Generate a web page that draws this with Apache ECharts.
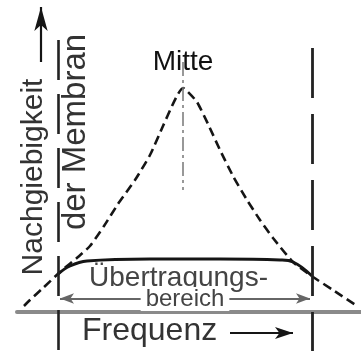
<!DOCTYPE html>
<html>
<head>
<meta charset="utf-8">
<script src="https://cdn.jsdelivr.net/npm/echarts@6/dist/echarts.min.js"></script>
<style>
  html, body { margin: 0; padding: 0; background: #fff; }
  #chart { width: 361px; height: 351px; }
</style>
</head>
<body>
<div id="chart"></div>
<script>
// resonance curve of the undamped membrane (dashed)
var peakFreq = [7, 13, 26, 43, 61, 73, 87, 101, 118, 133, 146, 155, 161, 166, 171, 180, 191, 203, 216, 230, 243, 256, 276, 296, 316, 340];
var peakValue = [6, 12, 24, 40, 55, 66, 86, 108, 132, 157, 186, 206, 218, 224, 220, 210, 188, 162, 136, 112, 92, 74, 50, 35, 22, 6];

// flattened (damped) response, solid
var flatFreq = [41, 53, 70, 133, 203, 263, 276, 295];
var flatValue = [38, 46, 51, 53, 53, 52, 50, 36];

// band edges of the Übertragungsbereich and the centre frequency
var edgeFreq = [41, 295];
var edgeTop = [272, 264];
var centerFreq = 166;
var centerRange = [122, 250];
var bandArrowLevel = 13.5;

var labels = {
  yTitle: 'Nachgiebigkeit',
  yTitle2: 'der Membran',
  center: 'Mitte',
  band1: 'Übertragungs-',
  band2: 'bereich',
  xTitle: 'Frequenz'
};

function zip(xs, ys) {
  var out = [];
  for (var i = 0; i < xs.length; i++) {
    out.push([xs[i], ys[i]]);
  }
  return out;
}

var ink = '#151515';
var font = '"Liberation Sans", Arial, sans-serif';

var chart = echarts.init(document.getElementById('chart'));

chart.setOption({
  animation: false,
  backgroundColor: '#fff',
  grid: { left: 17, right: 0, top: 0, bottom: 0, containLabel: false },
  xAxis: {
    type: 'value',
    min: 0,
    max: 344,
    axisLine: { show: true, onZero: true, lineStyle: { color: '#8a8a8a', width: 4 } },
    axisTick: { show: false },
    axisLabel: { show: false },
    splitLine: { show: false }
  },
  yAxis: {
    type: 'value',
    min: -39,
    max: 312,
    axisLine: { show: false },
    axisTick: { show: false },
    axisLabel: { show: false },
    splitLine: { show: false }
  },
  series: [
    {
      name: 'peak',
      type: 'line',
      data: zip(peakFreq, peakValue),
      smooth: 0.2,
      symbol: 'none',
      lineStyle: { color: ink, width: 2.6, type: [9, 5] },
      z: 3
    },
    {
      name: 'flat',
      type: 'line',
      data: zip(flatFreq, flatValue),
      smooth: 0.4,
      symbol: 'none',
      lineStyle: { color: ink, width: 3 },
      z: 4,
      markLine: {
        silent: true,
        symbol: 'none',
        label: { show: false },
        data: [
          // left band edge
          [
            { coord: [edgeFreq[0], edgeTop[0]], lineStyle: { color: '#222', width: 2.6, type: [40, 14] } },
            { coord: [edgeFreq[0], -39] }
          ],
          // right band edge
          [
            { coord: [edgeFreq[1], edgeTop[1]], lineStyle: { color: '#222', width: 2.8, type: [50, 16] } },
            { coord: [edgeFreq[1], -39] }
          ],
          // centre line
          [
            { coord: [centerFreq, centerRange[1]], lineStyle: { color: '#777', width: 1.5, type: [14, 4, 3, 4] } },
            { coord: [centerFreq, centerRange[0]] }
          ],
          // Übertragungsbereich double arrow
          [
            { coord: [edgeFreq[0] + 2, bandArrowLevel], symbol: 'arrow', symbolSize: [8, 14], lineStyle: { color: '#666', width: 2, type: 'solid' } },
            { coord: [edgeFreq[1] - 2, bandArrowLevel], symbol: 'arrow', symbolSize: [8, 14] }
          ],
          // y arrow
          [
            { coord: [24, 250], symbol: 'none', lineStyle: { color: ink, width: 2.2, type: 'solid' } },
            { coord: [24, 305], symbol: 'arrow', symbolSize: [10, 24] }
          ],
          // x arrow
          [
            { coord: [213, -21], symbol: 'none', lineStyle: { color: ink, width: 2.2, type: 'solid' } },
            { coord: [276, -21], symbol: 'arrow', symbolSize: [9, 18] }
          ]
        ]
      }
    }
  ],
  graphic: [
    {
      type: 'text', x: 34, y: 177, rotation: Math.PI / 2, z: 10,
      style: { text: labels.yTitle, font: '30px ' + font, fill: '#333', align: 'center', verticalAlign: 'middle' }
    },
    {
      type: 'text', x: 75.5, y: 132, rotation: Math.PI / 2, z: 10,
      style: { text: labels.yTitle2, font: '33px ' + font, fill: '#333', align: 'center', verticalAlign: 'middle' }
    },
    {
      type: 'text', x: 183, y: 62.5, z: 10,
      style: { text: labels.center, font: '28px ' + font, fill: '#111', align: 'center', verticalAlign: 'middle' }
    },
    {
      type: 'text', x: 178.5, y: 278, z: 10,
      style: { text: labels.band1, font: '28px ' + font, fill: '#444', align: 'center', verticalAlign: 'middle' }
    },
    {
      type: 'text', x: 185, y: 299, z: 10,
      style: { text: labels.band2, font: '24px ' + font, fill: '#444', align: 'center', verticalAlign: 'middle',
               backgroundColor: '#fff', padding: [0, 5] }
    },
    {
      type: 'text', x: 82, y: 331, z: 10,
      style: { text: labels.xTitle, font: '32px ' + font, fill: '#333', align: 'left', verticalAlign: 'middle' }
    }
  ]
});
</script>
</body>
</html>
